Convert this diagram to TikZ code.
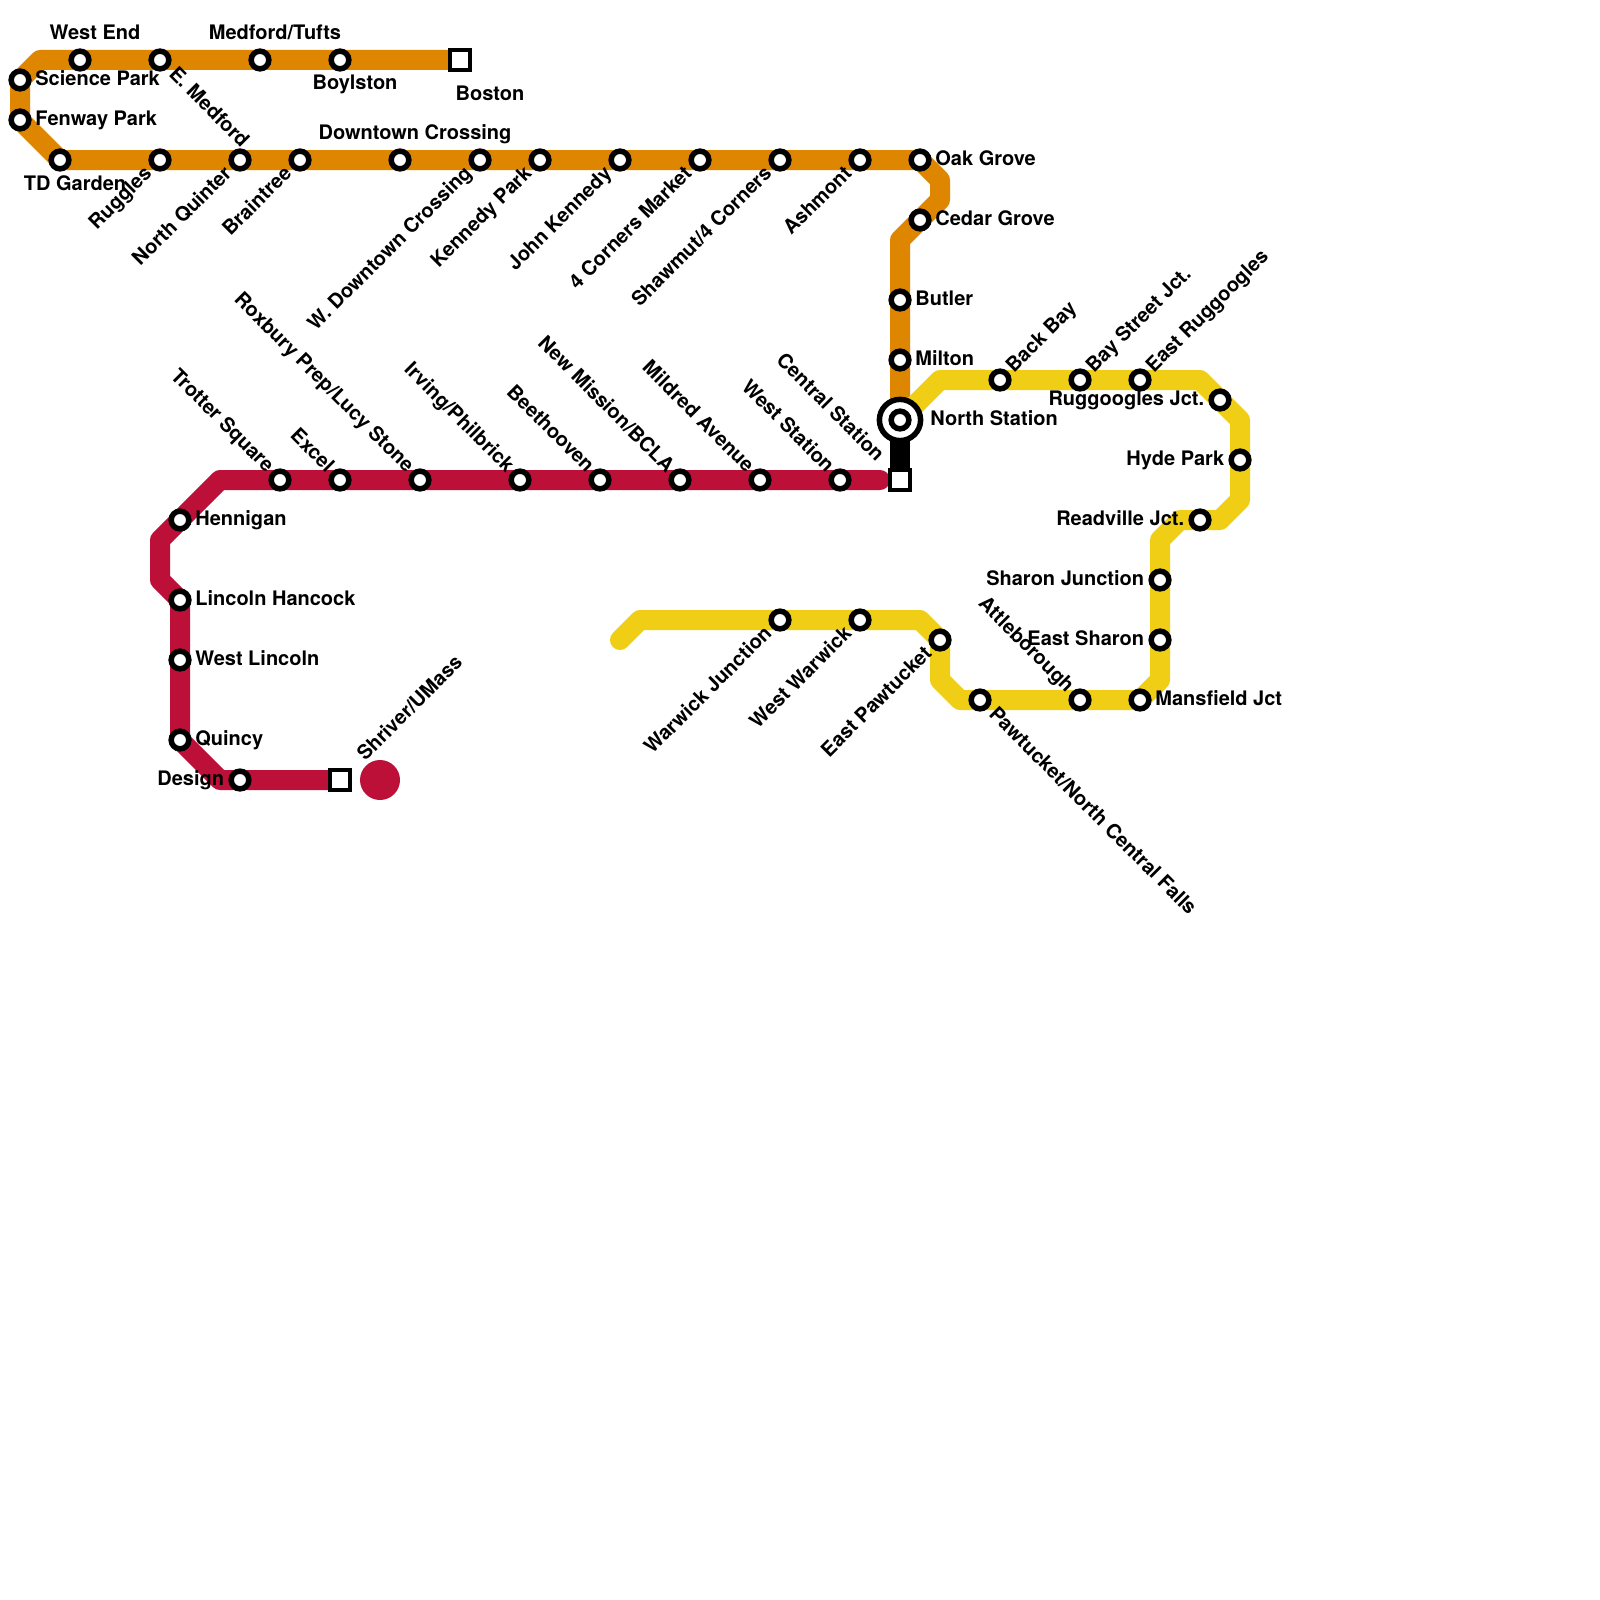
\documentclass[tikz,border=0pt]{standalone}
\usepackage{fontspec}
\setmainfont{TeX Gyre Heros}
\usetikzlibrary{backgrounds}
\definecolor{orangeline}{HTML}{DF8600}
\definecolor{yellowline}{HTML}{F0CE15}
\definecolor{redline}{HTML}{BD1038}
\tikzset{
  sta/.style={circle,draw=black,fill=white,line width=2.75pt,minimum size=8.85pt,inner sep=0pt,outer sep=0pt},
  termsq/.style={rectangle,draw=black,fill=white,line width=2pt,minimum size=9.6pt,inner sep=0pt,outer sep=0pt},
  hubring/.style={circle,draw=black,fill=white,line width=2.75pt,minimum size=20.6pt,inner sep=0pt,outer sep=0pt},
  metro/.style={line width=10pt,line cap=round,line join=round},
  lab/.style={font=\bfseries\fontsize{10}{12}\selectfont,inner sep=0pt,text=black},
  labR/.style={lab,shift={(15,5.5)},anchor=base west},
  labL/.style={lab,shift={(-15.5,5.5)},anchor=base east},
  labA/.style={lab,shift={(15,-20)},anchor=base},
  labB/.style={lab,shift={(15,30)},anchor=base},
  labNWend/.style={lab,shift={(-10,-10)},rotate=-45,anchor=mid east},
  labSEstart/.style={lab,shift={(11.5,11.5)},rotate=-45,anchor=mid west},
  labSWend/.style={lab,shift={(-10.7,10.7)},rotate=45,anchor=mid east},
  labNEstart/.style={lab,shift={(10,-10)},rotate=45,anchor=mid west},
}
\begin{document}
\begin{tikzpicture}[x=0.5pt,y=-0.5pt]
\path[use as bounding box] (0,0) rectangle (1600,1600);
% bends
\foreach \n/\p in {o1/{40,60},o2/{20,80},o3/{20,120},o4/{60,160},o5/{920,160},o6/{940,180},o7/{940,200},o8/{900,240},
  y1/{940,380},y2/{1200,380},y3/{1240,420},y4/{1240,500},y5/{1220,520},y6/{1180,520},y7/{1160,540},y8/{1160,680},y9/{1140,700},y10/{960,700},y11/{940,680},y12/{940,640},y13/{920,620},y14/{640,620},y15/{620,640},
  r1/{880,480},r2/{220,480},r3/{160,540},r4/{160,580},r5/{180,600},r6/{180,740},r7/{220,780}}
  {\coordinate (\n) at (\p);}
% hub ring
\node[hubring] (hub) at (900,420) {};
% stations
\node[termsq] (boston) at (460,60) {};
\node[sta] (westend) at (80,60) {};
\node[sta] (emedford) at (160,60) {};
\node[sta] (medford) at (260,60) {};
\node[sta] (boylston) at (340,60) {};
\node[sta] (science) at (20,80) {};
\node[sta] (fenway) at (20,120) {};
\node[sta] (tdgarden) at (60,160) {};
\node[sta] (ruggles) at (160,160) {};
\node[sta] (nquinter) at (240,160) {};
\node[sta] (braintree) at (300,160) {};
\node[sta] (downtown) at (400,160) {};
\node[sta] (wdowntown) at (480,160) {};
\node[sta] (kennedypark) at (540,160) {};
\node[sta] (jkennedy) at (620,160) {};
\node[sta] (fourcorners) at (700,160) {};
\node[sta] (shawmut) at (780,160) {};
\node[sta] (ashmont) at (860,160) {};
\node[sta] (oakgrove) at (920,160) {};
\node[sta] (cedargrove) at (920,220) {};
\node[sta] (butler) at (900,300) {};
\node[sta] (milton) at (900,360) {};
\node[sta] (north) at (900,420) {};
\node[termsq] (central) at (900,480) {};
\node[sta] (backbay) at (1000,380) {};
\node[sta] (baystreet) at (1080,380) {};
\node[sta] (eastrug) at (1140,380) {};
\node[sta] (ruggoogles) at (1220,400) {};
\node[sta] (hydepark) at (1240,460) {};
\node[sta] (readville) at (1200,520) {};
\node[sta] (sharon) at (1160,580) {};
\node[sta] (esharon) at (1160,640) {};
\node[sta] (mansfield) at (1140,700) {};
\node[sta] (attleboro) at (1080,700) {};
\node[sta] (pawtucket) at (980,700) {};
\node[sta] (epawtucket) at (940,640) {};
\node[sta] (wwarwick) at (860,620) {};
\node[sta] (warwick) at (780,620) {};
\node[sta] (weststation) at (840,480) {};
\node[sta] (mildred) at (760,480) {};
\node[sta] (newmission) at (680,480) {};
\node[sta] (beethooven) at (600,480) {};
\node[sta] (irving) at (520,480) {};
\node[sta] (roxbury) at (420,480) {};
\node[sta] (excel) at (340,480) {};
\node[sta] (trotter) at (280,480) {};
\node[sta] (hennigan) at (180,520) {};
\node[sta] (lincoln) at (180,600) {};
\node[sta] (wlincoln) at (180,660) {};
\node[sta] (quincy) at (180,740) {};
\node[sta] (design) at (240,780) {};
\node[termsq] (shriver) at (340,780) {};
\node[circle,fill=redline,minimum size=20pt,inner sep=0pt,outer sep=0pt] (bigdot) at (380,780) {};
% lines
\begin{pgfonlayer}{background}
\fill[white] (0,0) rectangle (1600,1600);
\draw[metro,orangeline] (boston.center) -- (o1) -- (o2) -- (o3) -- (o4) -- (o5) -- (o6) -- (o7) -- (o8) -- (north.center);
\draw[metro,yellowline] (north.center) -- (y1) -- (y2) -- (y3) -- (y4) -- (y5) -- (y6) -- (y7) -- (y8) -- (y9) -- (y10) -- (y11) -- (y12) -- (y13) -- (y14) -- (y15);
\draw[metro,redline] (r1) -- (r2) -- (r3) -- (r4) -- (r5) -- (r6) -- (r7) -- (shriver.center);
\draw[metro,black] (north.center) -- (central.center);
\end{pgfonlayer}
% labels
\node[labA] (l1) at (westend) {West End};
\node[labA] (l2) at (medford) {Medford/Tufts};
\node[labB] (l3) at (boylston) {Boylston};
\node[lab,shift={(30,41)},anchor=base] (l4) at (boston) {Boston};
\node[labR] (l5) at (science) {Science Park};
\node[labR] (l6) at (fenway) {Fenway Park};
\node[labB] (l7) at (tdgarden) {TD Garden};
\node[labSEstart] (l8) at (emedford) {E. Medford};
\node[labSWend] (l9) at (ruggles) {Ruggles};
\node[labSWend] (l10) at (nquinter) {North Quinter};
\node[labSWend] (l11) at (braintree) {Braintree};
\node[labA] (l12) at (downtown) {Downtown Crossing};
\node[labSWend] (l13) at (wdowntown) {W. Downtown Crossing};
\node[labSWend] (l14) at (kennedypark) {Kennedy Park};
\node[labSWend] (l15) at (jkennedy) {John Kennedy};
\node[labSWend] (l16) at (fourcorners) {4 Corners Market};
\node[labSWend] (l17) at (shawmut) {Shawmut/4 Corners};
\node[labSWend] (l18) at (ashmont) {Ashmont};
\node[labR] (l19) at (oakgrove) {Oak Grove};
\node[labR] (l20) at (cedargrove) {Cedar Grove};
\node[labR] (l21) at (butler) {Butler};
\node[labR] (l22) at (milton) {Milton};
\node[lab,shift={(30,5.5)},anchor=base west] (l23) at (north) {North Station};
\node[lab,shift={(-20,-21)},rotate=-45,anchor=mid east] (l24) at (central) {Central Station};
\node[labNEstart] (l25) at (backbay) {Back Bay};
\node[labNEstart] (l26) at (baystreet) {Bay Street Jct.};
\node[labNEstart] (l27) at (eastrug) {East Ruggoogles};
\node[labL] (l28) at (ruggoogles) {Ruggoogles Jct.};
\node[labL] (l29) at (hydepark) {Hyde Park};
\node[labL] (l30) at (readville) {Readville Jct.};
\node[labL] (l31) at (sharon) {Sharon Junction};
\node[labL] (l32) at (esharon) {East Sharon};
\node[labR] (l33) at (mansfield) {Mansfield Jct};
\node[labNWend] (l34) at (attleboro) {Attleborough};
\node[labSEstart] (l35) at (pawtucket) {Pawtucket/North Central Falls};
\node[labSWend] (l36) at (epawtucket) {East Pawtucket};
\node[labSWend] (l37) at (wwarwick) {West Warwick};
\node[labSWend] (l38) at (warwick) {Warwick Junction};
\node[labNWend] (l39) at (weststation) {West Station};
\node[labNWend] (l40) at (mildred) {Mildred Avenue};
\node[labNWend] (l41) at (newmission) {New Mission/BCLA};
\node[labNWend] (l42) at (beethooven) {Beethooven};
\node[labNWend] (l43) at (irving) {Irving/Philbrick};
\node[labNWend] (l44) at (roxbury) {Roxbury Prep/Lucy Stone};
\node[labNWend] (l45) at (excel) {Excel};
\node[labNWend] (l46) at (trotter) {Trotter Square};
\node[labR] (l47) at (hennigan) {Hennigan};
\node[labR] (l48) at (lincoln) {Lincoln Hancock};
\node[labR] (l49) at (wlincoln) {West Lincoln};
\node[labR] (l50) at (quincy) {Quincy};
\node[labL] (l51) at (design) {Design};
\node[lab,shift={(21.5,-21.5)},rotate=45,anchor=mid west] (l52) at (shriver) {Shriver/UMass};
\end{tikzpicture}
\end{document}
